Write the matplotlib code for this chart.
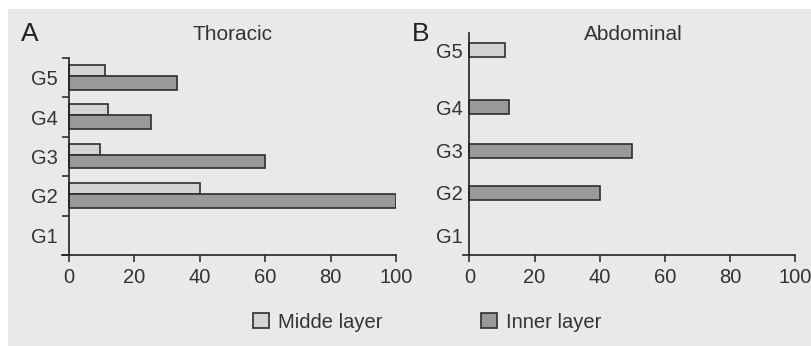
import matplotlib
matplotlib.use("Agg")
import matplotlib.pyplot as plt
from matplotlib.patches import Rectangle
import numpy as np

categories = ["G1", "G2", "G3", "G4", "G5"]
thoracic_middle = [0, 40, 9.5, 12, 11]
thoracic_inner = [0, 100, 60, 25, 33]
abdominal_middle = [0, 0, 0, 0, 11]
abdominal_inner = [0, 40, 50, 12, 0]
abd_positions = [0, 0.99, 1.98, 3.01, 4.35]
x_ticks = [0, 20, 40, 60, 80, 100]
legend_labels = ["Midde layer", "Inner layer"]

BG = "#e8e9eb"
LIGHT = "#d3d4d6"
DARK = "#98999b"
EDGE = "#2e2e2e"
TXT = "#333333"
FS = 14.5

plt.rcParams["font.family"] = ["Liberation Sans", "DejaVu Sans"]

fig = plt.figure(figsize=(8.12, 3.46), dpi=100)
fig.patch.set_facecolor("white")
fig.patches.append(Rectangle((8 / 812, 0), 1 - 8 / 812, (346 - 9) / 346,
                             transform=fig.transFigure, facecolor=BG,
                             edgecolor="none", zorder=-10))

W, H = 812, 346


def style_axes(ax):
    ax.set_facecolor("none")
    for s in ["top", "right"]:
        ax.spines[s].set_visible(False)
    for s in ["left", "bottom"]:
        ax.spines[s].set_color("#222222")
        ax.spines[s].set_linewidth(1.2)
    ax.spines["left"].set_position(("data", 0))
    ax.set_xlim(-1.9, 100)
    ax.set_xticks(x_ticks)
    ax.set_xticklabels([str(v) for v in x_ticks])
    ax.tick_params(axis="x", direction="out", length=5, width=1.1,
                   color="#222222", labelsize=FS, labelcolor=TXT, pad=4.5)


# Panel A
axA = fig.add_axes([62.4 / W, (H - 255) / H, (396.3 - 62.4) / W, (255 - 58) / H])
style_axes(axA)
pos = np.arange(len(categories))
mid = np.array(thoracic_middle, dtype=float)
inn = np.array(thoracic_inner, dtype=float)
mm = mid > 0
im = inn > 0
hA_mid = axA.barh(pos[mm] + 0.185, mid[mm], height=0.27, color=LIGHT,
                  edgecolor=EDGE, linewidth=1.2, label=legend_labels[0])
hA_inn = axA.barh(pos[im] - 0.125, inn[im], height=0.35, color=DARK,
                  edgecolor=EDGE, linewidth=1.2, label=legend_labels[1])
axA.set_ylim(-0.5, len(categories) - 0.5)
axA.set_yticks(np.arange(len(categories) + 1) - 0.5)
axA.set_yticklabels([])
axA.set_yticks(pos, minor=True)
axA.set_yticklabels(categories, minor=True)
axA.tick_params(axis="y", which="major", direction="out", length=5, width=1.1,
                color="#222222")
axA.tick_params(axis="y", which="minor", length=0, labelsize=FS,
                labelcolor=TXT, pad=8)

# Panel B
axB = fig.add_axes([463.2 / W, (H - 255) / H, (795.3 - 463.2) / W, (255 - 33) / H])
style_axes(axB)
bpos = np.array(abd_positions)
bmid = np.array(abdominal_middle, dtype=float)
binn = np.array(abdominal_inner, dtype=float)
axB.barh(bpos[bmid > 0], bmid[bmid > 0], height=0.34, color=LIGHT,
         edgecolor=EDGE, linewidth=1.2)
axB.barh(bpos[binn > 0], binn[binn > 0], height=0.34, color=DARK,
         edgecolor=EDGE, linewidth=1.2)
axB.set_ylim(-0.47, 4.75)
axB.set_yticks(bpos)
axB.set_yticklabels(categories)
axB.tick_params(axis="y", length=0, labelsize=FS, labelcolor=TXT, pad=4.5)

# Titles and panel letters
fig.text(233 / W, 1 - 35 / H, "Thoracic", ha="center", va="center",
         fontsize=15, color=TXT)
fig.text(633 / W, 1 - 35 / H, "Abdominal", ha="center", va="center",
         fontsize=15, color=TXT)
fig.text(21 / W, 1 - 34 / H, "A", ha="left", va="center", fontsize=19,
         color="#222222")
fig.text(412 / W, 1 - 34 / H, "B", ha="left", va="center", fontsize=19,
         color="#222222")

# Legend
fig.legend(handles=[hA_mid, hA_inn], labels=legend_labels, ncol=2,
           loc="center left", bbox_to_anchor=(253 / W, 1 - 322 / H),
           frameon=False, fontsize=FS, handlelength=0.78, handleheight=0.78,
           handletextpad=0.45, columnspacing=4.9, borderpad=0,
           borderaxespad=0, labelcolor=TXT)

fig.savefig("out.png", dpi=100, facecolor=fig.get_facecolor())
